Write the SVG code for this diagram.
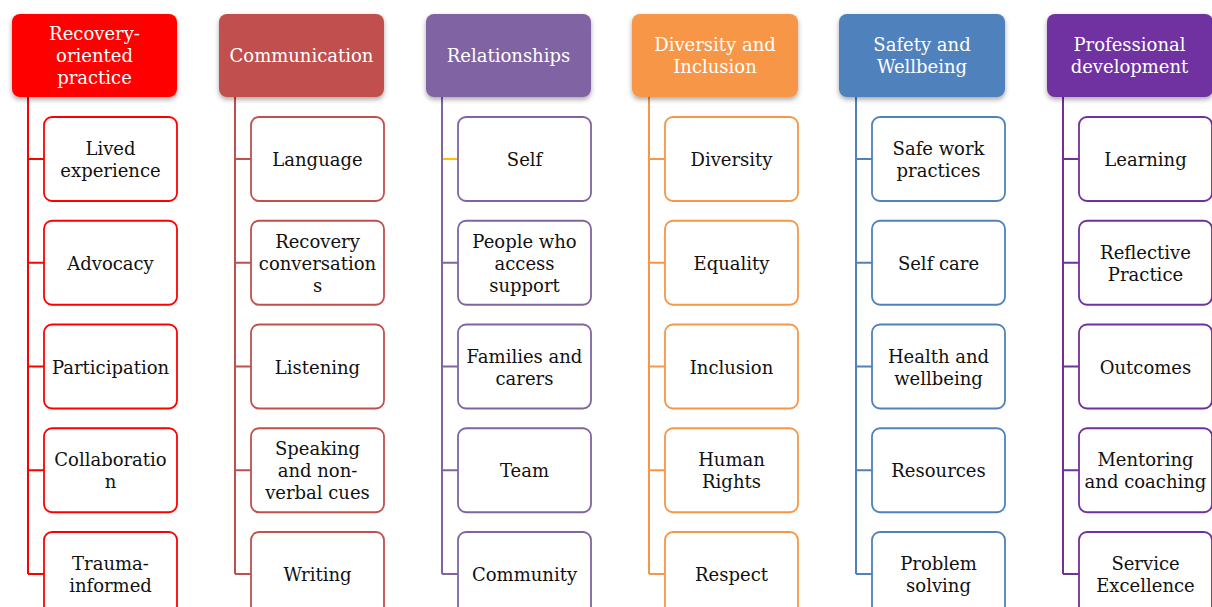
<svg xmlns="http://www.w3.org/2000/svg" width="1212" height="607" viewBox="0 0 1212 607">
<defs>
<filter id="sh" x="-10%" y="-10%" width="120%" height="135%">
<feDropShadow dx="0" dy="2.5" stdDeviation="2.5" flood-color="#000" flood-opacity="0.35"/>
</filter>
<style>
.h{filter:url(#sh)}
.ht{font-family:"DejaVu Serif","Liberation Serif",serif;font-size:18px;fill:#fff;text-anchor:middle}
.c{fill:#fff;stroke-width:1.8}
.ct{font-family:"DejaVu Serif","Liberation Serif",serif;font-size:18px;fill:#111;text-anchor:middle}
.ln{fill:none;stroke-width:2}
</style>
</defs>
<rect width="1212" height="607" fill="#fff"/>
<g id="connectors">
<path class="ln" stroke="#FF0000" d="M28 97V574M28 159H44M28 262.75H44M28 366.5H44M28 470.25H44M28 574H44"/>
<path class="ln" stroke="#C0504D" d="M235 97V574M235 159H251M235 262.75H251M235 366.5H251M235 470.25H251M235 574H251"/>
<path class="ln" stroke="#8064A2" d="M442 97V574M442 262.75H458M442 366.5H458M442 470.25H458M442 574H458"/>
<path class="ln" stroke="#FFC000" d="M443 159H458"/>
<path class="ln" stroke="#F79646" d="M649 97V574M649 159H665M649 262.75H665M649 366.5H665M649 470.25H665M649 574H665"/>
<path class="ln" stroke="#4F81BD" d="M856 97V574M856 159H872M856 262.75H872M856 366.5H872M856 470.25H872M856 574H872"/>
<path class="ln" stroke="#7030A0" d="M1063 97V574M1063 159H1079M1063 262.75H1079M1063 366.5H1079M1063 470.25H1079M1063 574H1079"/>
</g>
<!-- Column 1 -->
<g id="h1"><rect class="h" x="12" y="14" width="165" height="83" rx="8" fill="#FF0000"/><text class="ht" x="94.5"><tspan x="94.5" y="40">Recovery-</tspan><tspan x="94.5" y="62">oriented</tspan><tspan x="94.5" y="84">practice</tspan></text></g>
<g id="c1a"><rect class="c" stroke="#FF0000" x="44" y="117" width="133" height="84" rx="8"/><text class="ct"><tspan x="110.5" y="155">Lived</tspan><tspan x="110.5" y="177">experience</tspan></text></g>
<g id="c1b"><rect class="c" stroke="#FF0000" x="44" y="220.75" width="133" height="84" rx="8"/><text class="ct" x="110.5" y="269.75">Advocacy</text></g>
<g id="c1c"><rect class="c" stroke="#FF0000" x="44" y="324.5" width="133" height="84" rx="8"/><text class="ct" x="110.5" y="373.5">Participation</text></g>
<g id="c1d"><rect class="c" stroke="#FF0000" x="44" y="428.25" width="133" height="84" rx="8"/><text class="ct"><tspan x="110.5" y="466.25">Collaboratio</tspan><tspan x="110.5" y="488.25">n</tspan></text></g>
<g id="c1e"><rect class="c" stroke="#FF0000" x="44" y="532" width="133" height="84" rx="8"/><text class="ct"><tspan x="110.5" y="570">Trauma-</tspan><tspan x="110.5" y="592">informed</tspan></text></g>
<!-- Column 2 -->
<g id="h2"><rect class="h" x="219" y="14" width="165" height="83" rx="8" fill="#C0504D"/><text class="ht" x="301.5" y="62">Communication</text></g>
<g id="c2a"><rect class="c" stroke="#C0504D" x="251" y="117" width="133" height="84" rx="8"/><text class="ct" x="317.5" y="166">Language</text></g>
<g id="c2b"><rect class="c" stroke="#C0504D" x="251" y="220.75" width="133" height="84" rx="8"/><text class="ct"><tspan x="317.5" y="247.75">Recovery</tspan><tspan x="317.5" y="269.75">conversation</tspan><tspan x="317.5" y="291.75">s</tspan></text></g>
<g id="c2c"><rect class="c" stroke="#C0504D" x="251" y="324.5" width="133" height="84" rx="8"/><text class="ct" x="317.5" y="373.5">Listening</text></g>
<g id="c2d"><rect class="c" stroke="#C0504D" x="251" y="428.25" width="133" height="84" rx="8"/><text class="ct"><tspan x="317.5" y="455.25">Speaking</tspan><tspan x="317.5" y="477.25">and non-</tspan><tspan x="317.5" y="499.25">verbal cues</tspan></text></g>
<g id="c2e"><rect class="c" stroke="#C0504D" x="251" y="532" width="133" height="84" rx="8"/><text class="ct" x="317.5" y="581">Writing</text></g>
<!-- Column 3 -->
<g id="h3"><rect class="h" x="426" y="14" width="165" height="83" rx="8" fill="#8064A2"/><text class="ht" x="508.5" y="62">Relationships</text></g>
<g id="c3a"><rect class="c" stroke="#8064A2" x="458" y="117" width="133" height="84" rx="8"/><text class="ct" x="524.5" y="166">Self</text></g>
<g id="c3b"><rect class="c" stroke="#8064A2" x="458" y="220.75" width="133" height="84" rx="8"/><text class="ct"><tspan x="524.5" y="247.75">People who</tspan><tspan x="524.5" y="269.75">access</tspan><tspan x="524.5" y="291.75">support</tspan></text></g>
<g id="c3c"><rect class="c" stroke="#8064A2" x="458" y="324.5" width="133" height="84" rx="8"/><text class="ct"><tspan x="524.5" y="362.5">Families and</tspan><tspan x="524.5" y="384.5">carers</tspan></text></g>
<g id="c3d"><rect class="c" stroke="#8064A2" x="458" y="428.25" width="133" height="84" rx="8"/><text class="ct" x="524.5" y="477.25">Team</text></g>
<g id="c3e"><rect class="c" stroke="#8064A2" x="458" y="532" width="133" height="84" rx="8"/><text class="ct" x="524.5" y="581">Community</text></g>
<!-- Column 4 -->
<g id="h4"><rect class="h" x="632" y="14" width="166" height="83" rx="8" fill="#F79646"/><text class="ht"><tspan x="715" y="51">Diversity and</tspan><tspan x="715" y="73">Inclusion</tspan></text></g>
<g id="c4a"><rect class="c" stroke="#F79646" x="665" y="117" width="133" height="84" rx="8"/><text class="ct" x="731.5" y="166">Diversity</text></g>
<g id="c4b"><rect class="c" stroke="#F79646" x="665" y="220.75" width="133" height="84" rx="8"/><text class="ct" x="731.5" y="269.75">Equality</text></g>
<g id="c4c"><rect class="c" stroke="#F79646" x="665" y="324.5" width="133" height="84" rx="8"/><text class="ct" x="731.5" y="373.5">Inclusion</text></g>
<g id="c4d"><rect class="c" stroke="#F79646" x="665" y="428.25" width="133" height="84" rx="8"/><text class="ct"><tspan x="731.5" y="466.25">Human</tspan><tspan x="731.5" y="488.25">Rights</tspan></text></g>
<g id="c4e"><rect class="c" stroke="#F79646" x="665" y="532" width="133" height="84" rx="8"/><text class="ct" x="731.5" y="581">Respect</text></g>
<!-- Column 5 -->
<g id="h5"><rect class="h" x="839" y="14" width="166" height="83" rx="8" fill="#4F81BD"/><text class="ht"><tspan x="922" y="51">Safety and</tspan><tspan x="922" y="73">Wellbeing</tspan></text></g>
<g id="c5a"><rect class="c" stroke="#4F81BD" x="872" y="117" width="133" height="84" rx="8"/><text class="ct"><tspan x="938.5" y="155">Safe work</tspan><tspan x="938.5" y="177">practices</tspan></text></g>
<g id="c5b"><rect class="c" stroke="#4F81BD" x="872" y="220.75" width="133" height="84" rx="8"/><text class="ct" x="938.5" y="269.75">Self care</text></g>
<g id="c5c"><rect class="c" stroke="#4F81BD" x="872" y="324.5" width="133" height="84" rx="8"/><text class="ct"><tspan x="938.5" y="362.5">Health and</tspan><tspan x="938.5" y="384.5">wellbeing</tspan></text></g>
<g id="c5d"><rect class="c" stroke="#4F81BD" x="872" y="428.25" width="133" height="84" rx="8"/><text class="ct" x="938.5" y="477.25">Resources</text></g>
<g id="c5e"><rect class="c" stroke="#4F81BD" x="872" y="532" width="133" height="84" rx="8"/><text class="ct"><tspan x="938.5" y="570">Problem</tspan><tspan x="938.5" y="592">solving</tspan></text></g>
<!-- Column 6 -->
<g id="h6"><rect class="h" x="1047" y="14" width="166" height="83" rx="8" fill="#7030A0"/><text class="ht"><tspan x="1129.5" y="51">Professional</tspan><tspan x="1129.5" y="73">development</tspan></text></g>
<g id="c6a"><rect class="c" stroke="#7030A0" x="1079" y="117" width="133" height="84" rx="8"/><text class="ct" x="1145.5" y="166">Learning</text></g>
<g id="c6b"><rect class="c" stroke="#7030A0" x="1079" y="220.75" width="133" height="84" rx="8"/><text class="ct"><tspan x="1145.5" y="258.75">Reflective</tspan><tspan x="1145.5" y="280.75">Practice</tspan></text></g>
<g id="c6c"><rect class="c" stroke="#7030A0" x="1079" y="324.5" width="133" height="84" rx="8"/><text class="ct" x="1145.5" y="373.5">Outcomes</text></g>
<g id="c6d"><rect class="c" stroke="#7030A0" x="1079" y="428.25" width="133" height="84" rx="8"/><text class="ct"><tspan x="1145.5" y="466.25">Mentoring</tspan><tspan x="1145.5" y="488.25">and coaching</tspan></text></g>
<g id="c6e"><rect class="c" stroke="#7030A0" x="1079" y="532" width="133" height="84" rx="8"/><text class="ct"><tspan x="1145.5" y="570">Service</tspan><tspan x="1145.5" y="592">Excellence</tspan></text></g>
</svg>
